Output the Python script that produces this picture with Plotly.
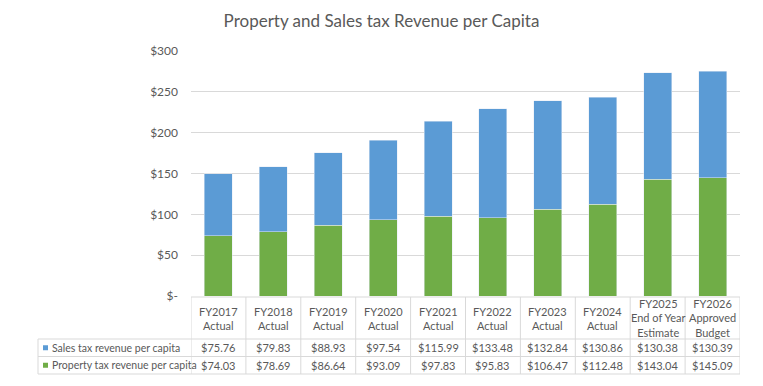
import plotly.graph_objects as go

categories = ["FY2017<br>Actual", "FY2018<br>Actual", "FY2019<br>Actual", "FY2020<br>Actual",
              "FY2021<br>Actual", "FY2022<br>Actual", "FY2023<br>Actual", "FY2024<br>Actual",
              "FY2025<br>End of Year<br>Estimate", "FY2026<br>Approved<br>Budget"]
sales_tax = [75.76, 79.83, 88.93, 97.54, 115.99, 133.48, 132.84, 130.86, 130.38, 130.39]
property_tax = [74.03, 78.69, 86.64, 93.09, 97.83, 95.83, 106.47, 112.48, 143.04, 145.09]
series_names = ["Sales tax revenue per capita", "Property tax revenue per capita"]
tick_vals = [0, 50, 100, 150, 200, 250, 300]
tick_text = ["$-", "$50", "$100", "$150", "$200", "$250", "$300"]

BLUE = "#5B9BD5"
GREEN = "#70AD47"
GRID = "#D9D9D9"
TXT = "#595959"
FONT = "Lato, Open Sans, sans-serif"

W, H = 763, 386
L, R, T, B = 191, 23, 51, 90
pw = W - L - R
ph = H - T - B

def px_x(px):
    return (px - L) / pw

def px_y(py):
    return (H - B - py) / ph

xs = list(range(len(categories)))

fig = go.Figure()
fig.add_trace(go.Bar(x=xs, y=property_tax, marker_color=GREEN, name=series_names[1],
                     showlegend=False))
fig.add_trace(go.Bar(x=xs, y=sales_tax, marker_color=BLUE, name=series_names[0],
                     showlegend=False))

shapes = []
annotations = []

# table geometry (pixels)
header_top, row1_top, row2_top, bottom = 297, 339, 356.5, 374
left_edge = 38

shapes.append(dict(type="line", xref="x", yref="paper", x0=-0.5, x1=len(xs) - 0.5,
                   y0=px_y(header_top), y1=px_y(header_top), line=dict(color=GRID, width=1)))
for py in [row1_top, row2_top, bottom]:
    shapes.append(dict(type="line", xref="paper", yref="paper", x0=px_x(left_edge), x1=1,
                       y0=px_y(py), y1=px_y(py), line=dict(color=GRID, width=1)))
for i in range(len(xs) + 1):
    shapes.append(dict(type="line", xref="x", yref="paper", x0=i - 0.5, x1=i - 0.5,
                       y0=px_y(header_top), y1=px_y(bottom), line=dict(color=GRID, width=1)))
shapes.append(dict(type="line", xref="paper", yref="paper", x0=px_x(left_edge), x1=px_x(left_edge),
                   y0=px_y(row1_top), y1=px_y(bottom), line=dict(color=GRID, width=1)))

row_centers = [(row1_top + row2_top) / 2, (row2_top + bottom) / 2]
row_colors = [BLUE, GREEN]
row_values = [sales_tax, property_tax]

for r in range(2):
    cy = row_centers[r]
    shapes.append(dict(type="rect", xref="paper", yref="paper",
                       x0=px_x(43), x1=px_x(48), y0=px_y(cy + 2.5), y1=px_y(cy - 2.5),
                       fillcolor=row_colors[r], line=dict(width=0)))
    annotations.append(dict(text=series_names[r], xref="paper", yref="paper",
                            x=px_x(50), y=px_y(cy), xanchor="left", yanchor="middle",
                            showarrow=False, font=dict(size=10.5, color=TXT, family=FONT)))
    for i, v in enumerate(row_values[r]):
        annotations.append(dict(text=f"${v:.2f}", xref="x", yref="paper", x=i, y=px_y(cy),
                                xanchor="center", yanchor="middle", showarrow=False,
                                font=dict(size=11, color=TXT, family=FONT)))

for i, c in enumerate(categories):
    annotations.append(dict(text=c, xref="x", yref="paper", x=i, y=px_y((header_top + row1_top) / 2),
                            xanchor="center", yanchor="middle", showarrow=False,
                            font=dict(size=11, color=TXT, family=FONT)))

fig.update_layout(
    width=W, height=H,
    margin=dict(l=L, r=R, t=T, b=B),
    paper_bgcolor="white", plot_bgcolor="white",
    barmode="stack", bargap=0.49,
    title=dict(text="Property and Sales tax Revenue per Capita", x=0.5, xanchor="center",
               y=1 - 21 / H, yanchor="middle",
               font=dict(size=17, color=TXT, family=FONT)),
    xaxis=dict(range=[-0.5, len(xs) - 0.5], showticklabels=False, showgrid=False,
               zeroline=False, showline=False, fixedrange=True),
    yaxis=dict(range=[0, 300], tickvals=tick_vals, ticktext=tick_text, showgrid=True,
               gridcolor=GRID, gridwidth=1, zeroline=False, showline=False,
               ticks="", ticklabelstandoff=12, automargin=False,
               tickfont=dict(size=12, color=TXT, family=FONT)),
    shapes=shapes, annotations=annotations,
    font=dict(family=FONT, color=TXT),
)

fig.write_html("out.html", config={"displayModeBar": False},
               post_script="document.body.style.margin='0';document.body.style.overflow='hidden';")
